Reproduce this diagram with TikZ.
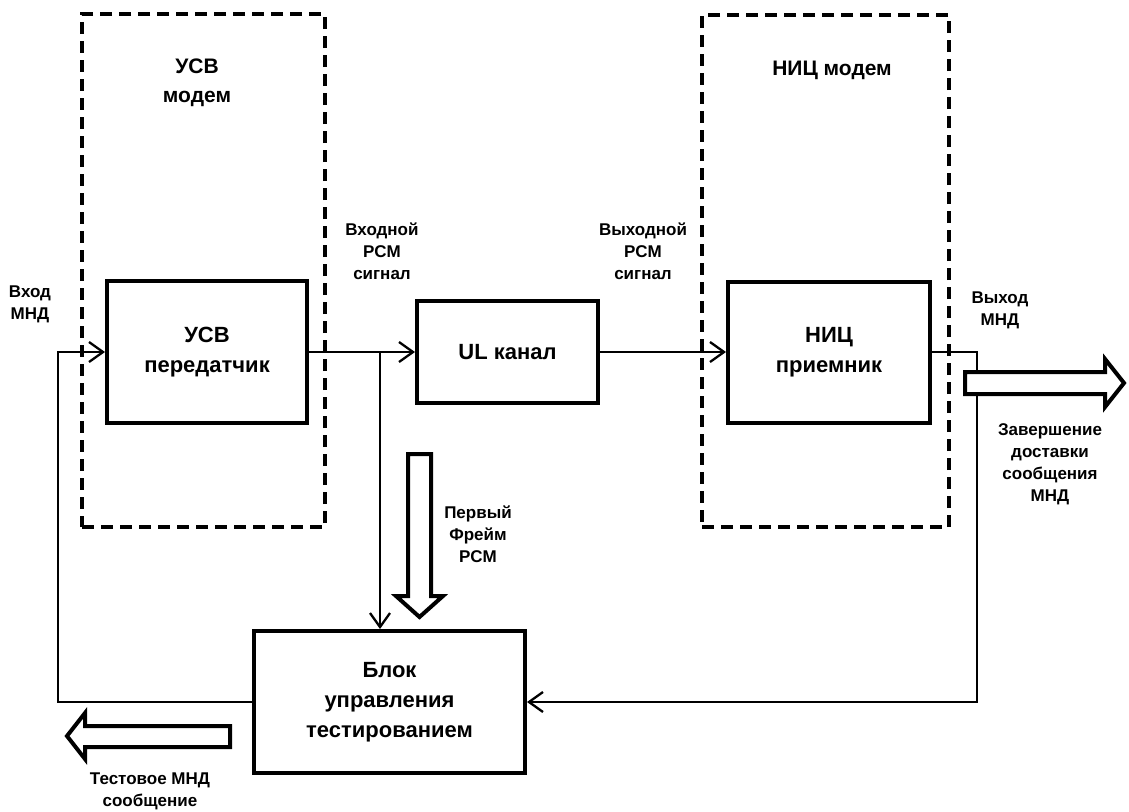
\documentclass[tikz,border=0pt]{standalone}
\usepackage{fontspec}
\setmainfont{Liberation Sans}
\usetikzlibrary{arrows.meta}

\begin{document}
\begin{tikzpicture}[x=1pt,y=-1pt,
  block/.style={draw,line width=4pt,align=center,inner sep=0pt,font=\bfseries\fontsize{22}{30}\selectfont},
  modem/.style={draw,line width=4pt,dash pattern=on 12pt off 7pt,inner sep=0pt},
  title/.style={align=center,font=\bfseries\fontsize{21}{29}\selectfont},
  lbl/.style={align=center,font=\bfseries\fontsize{17}{22}\selectfont},
  link/.style={line width=2.3pt,-{Straight Barb[length=14pt,width=20pt,line width=2.3pt]}},
  hollow/.style={draw,line width=4pt,fill=white,line join=miter}]
  \useasboundingbox (0,0) rectangle (1129,811);

  \node (usvmodem) [modem,minimum width=243pt,minimum height=513pt] at (203.5,270.5) {};
  \node (nicmodem) [modem,minimum width=247pt,minimum height=512pt] at (825.5,271) {};
  \node (usvtitle) [title] at (197,83) {УСВ\\модем};
  \node (nictitle) [title] at (832,70) {НИЦ модем};

  \node (tx) [block,minimum width=200pt,minimum height=142pt] at (207,352) {УСВ\\передатчик};
  \node (ul) [block,minimum width=181pt,minimum height=102pt] at (507.5,352) {UL канал};
  \node (rx) [block,minimum width=202pt,minimum height=141pt] at (829,352) {НИЦ\\приемник};
  \node (ctl) [block,minimum width=271pt,minimum height=142pt] at (389.5,702) {Блок\\управления\\тестированием};

  \node (inlbl) [lbl] at (30,304) {Вход\\МНД};
  \node (pcmin) [lbl] at (382,251) {Входной\\PCM\\сигнал};
  \node (pcmout) [lbl] at (643,251) {Выходной\\PCM\\сигнал};
  \node (outlbl) [lbl] at (1000,310) {Выход\\МНД};
  \node (donelbl) [lbl] at (1050,464) {Завершение\\доставки\\сообщения\\МНД};
  \node (framelbl) [lbl] at (478,534) {Первый\\Фрейм\\PCM};
  \node (testlbl) [lbl] at (150,791) {Тестовое МНД\\сообщение};

  \coordinate (split) at (380,352);
  \coordinate (loopL) at (58,702);
  \coordinate (loopR) at (977,702);

  \draw[link] (tx.east) -- (ul.west);
  \draw[link] (ul.east) -- (rx.west);
  \draw[link] (split) -- (split |- ctl.north);
  \draw[link] (ctl.west) -- (loopL) |- (tx.west);
  \draw[link] (rx.east) -| (loopR) -- (ctl.east);

  \draw[hollow] (965,372) -- (1105,372) -- (1105,359) -- (1124,383) -- (1105,407) -- (1105,394) -- (965,394) -- cycle;
  \draw[hollow] (408,454) -- (431,454) -- (431,596) -- (443,596) -- (419.5,617) -- (396,596) -- (408,596) -- cycle;
  \draw[hollow] (230,726) -- (85,726) -- (85,713) -- (67,736) -- (85,759) -- (85,747) -- (230,747) -- cycle;
\end{tikzpicture}
\end{document}
